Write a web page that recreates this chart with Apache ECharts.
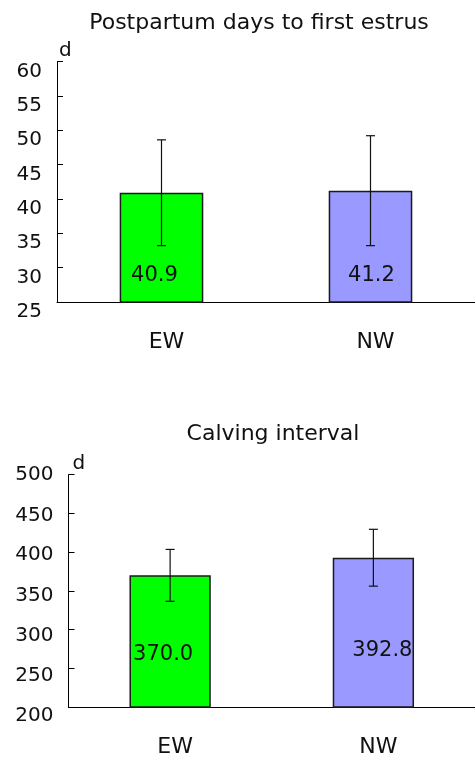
<!DOCTYPE html>
<html>
<head>
<meta charset="utf-8">
<script src="https://cdn.jsdelivr.net/npm/echarts@6/dist/echarts.min.js"></script>
<style>
  html, body { margin: 0; padding: 0; background: #fff; }
  #main { width: 475px; height: 758px; }
</style>
</head>
<body>
<div id="main"></div>
<script>
// data
var categories = ["EW", "NW"];
var estrusMean = [40.9, 41.2];
var estrusErr = [7.7, 8.0];
var calvingMean = [370.0, 392.8];
var calvingErr = [33.5, 36.7];

var barColors = ["#00ff00", "#9999ff"];
var FONT = "DejaVu Sans";

window.onload = function () {
  var myChart = echarts.init(document.getElementById("main"));

  function barData(values, labelCfg) {
    return values.map(function (v, i) {
      return {
        value: v,
        itemStyle: { color: barColors[i] },
        label: labelCfg[i],
      };
    });
  }

  function errData(mean, err) {
    return mean.map(function (m, i) {
      return [i, m - err[i], m + err[i]];
    });
  }

  // 误差线
  function renderErr(params, api) {
    var idx = api.value(0);
    var top = api.coord([idx, api.value(2)]);
    var bot = api.coord([idx, api.value(1)]);
    var w = 4.5;
    var style = { stroke: "#111", lineWidth: 1.2 };
    return {
      type: "group",
      children: [
        { type: "line", shape: { x1: top[0], y1: top[1], x2: bot[0], y2: bot[1] }, style: style },
        { type: "line", shape: { x1: top[0] - w, y1: top[1], x2: top[0] + w, y2: top[1] }, style: style },
        { type: "line", shape: { x1: bot[0] - w, y1: bot[1], x2: bot[0] + w, y2: bot[1] }, style: style },
      ],
    };
  }

  // the lower chart's tick labels drift downward a little towards the bottom
  var driftRich = {};
  for (var k = 0; k <= 9; k++) {
    driftRich["o" + k] = {
      fontFamily: FONT,
      fontSize: 20,
      color: "#111",
      padding: [2 * k, 0, 0, 0],
    };
  }
  function driftLabel(v) {
    var k = Math.round((500 - v) / 300 * 9);
    return "{o" + k + "|" + v + "}";
  }

  function yAxisCfg(gridIndex, min, max, interval, nameGap, namePad, labelAlign, formatter, rich) {
    return {
      type: "value",
      gridIndex: gridIndex,
      min: min,
      max: max,
      interval: interval,
      name: "d",
      nameLocation: "end",
      nameGap: nameGap,
      nameTextStyle: {
        fontFamily: FONT,
        fontSize: 20,
        color: "#111",
        align: "left",
        verticalAlign: "bottom",
        padding: [0, 0, 0, namePad],
      },
      axisLine: { show: true, lineStyle: { color: "#000", width: 1 } },
      axisTick: { show: true, inside: true, length: 6, lineStyle: { color: "#000" } },
      splitLine: { show: false },
      axisLabel: {
        fontFamily: FONT,
        fontSize: 20,
        color: "#111",
        margin: 15,
        verticalAlign: labelAlign,
        formatter: formatter,
        rich: rich,
      },
    };
  }

  function xAxisCfg(gridIndex) {
    return {
      type: "category",
      gridIndex: gridIndex,
      data: categories,
      axisLine: { show: true, lineStyle: { color: "#000", width: 1 } },
      axisTick: { show: false },
      axisLabel: {
        fontFamily: FONT,
        fontSize: 22,
        color: "#111",
        margin: 29,
        padding: [0, 0, 0, 10],
      },
    };
  }

  var valueLabel = {
    show: true,
    position: "insideBottom",
    fontFamily: FONT,
    fontSize: 21,
    color: "#111",
    formatter: function (p) {
      return p.value.toFixed(1);
    },
  };

  var option = {
    animation: false,
    title: [
      {
        text: "Postpartum days to first estrus",
        left: 254,
        top: 7,
        textAlign: "center",
        textStyle: { fontFamily: FONT, fontSize: 22, fontWeight: "normal", color: "#111" },
      },
      {
        text: "Calving interval",
        left: 268,
        top: 418,
        textAlign: "center",
        textStyle: { fontFamily: FONT, fontSize: 22, fontWeight: "normal", color: "#111" },
      },
    ],
    grid: [
      { left: 57, top: 61.5, right: -9, bottom: 456 },
      { left: 68.5, top: 474.7, right: -9, bottom: 48.7 },
    ],
    xAxis: [xAxisCfg(0), xAxisCfg(1)],
    yAxis: [
      yAxisCfg(0, 25, 60, 5, 1, 2, "top"),
      yAxisCfg(1, 200, 500, 50, 1, 4, "middle", driftLabel, driftRich),
    ],
    series: [
      {
        type: "bar",
        xAxisIndex: 0,
        yAxisIndex: 0,
        barWidth: "40%",
        itemStyle: { borderColor: "#1a1a1a", borderWidth: 1.5 },
        label: valueLabel,
        data: barData(estrusMean, [
          { distance: 17, offset: [-7, 0] },
          { distance: 17, offset: [1, 0] },
        ]),
      },
      {
        type: "custom",
        xAxisIndex: 0,
        yAxisIndex: 0,
        renderItem: renderErr,
        z: 5,
        data: errData(estrusMean, estrusErr),
      },
      {
        type: "bar",
        xAxisIndex: 1,
        yAxisIndex: 1,
        barWidth: "40%",
        itemStyle: { borderColor: "#1a1a1a", borderWidth: 1.5 },
        label: valueLabel,
        data: barData(calvingMean, [
          { distance: 43, offset: [-7, 0] },
          { distance: 47, offset: [9, 0] },
        ]),
      },
      {
        type: "custom",
        xAxisIndex: 1,
        yAxisIndex: 1,
        renderItem: renderErr,
        z: 5,
        data: errData(calvingMean, calvingErr),
      },
    ],
  };
  myChart.setOption(option);
};
</script>
</body>
</html>
